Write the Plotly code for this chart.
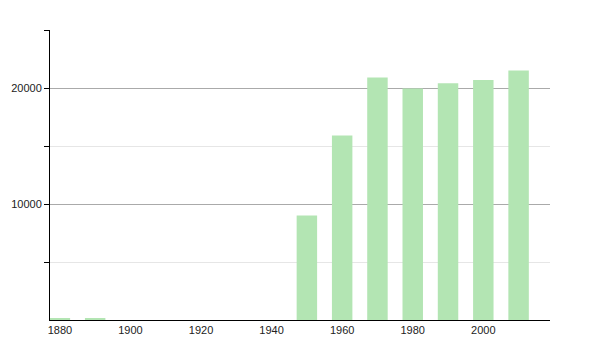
import plotly.graph_objects as go

years = [1880, 1890, 1950, 1960, 1970, 1980, 1990, 2000, 2010]
population = [150, 120, 9000, 15900, 20900, 19950, 20400, 20700, 21500]
x_tick_labels = [1880, 1900, 1920, 1940, 1960, 1980, 2000]
y_tick_labels = [10000, 20000]

fig = go.Figure()
fig.add_trace(go.Bar(
    x=years, y=population, width=5.8,
    marker=dict(color="#b3e5b3", line=dict(width=0)),
))

fig.update_layout(
    width=600, height=350,
    margin=dict(l=50, r=50, t=30, b=30),
    paper_bgcolor="white", plot_bgcolor="white",
    showlegend=False,
    font=dict(family="Liberation Sans, Arial, sans-serif", size=11, color="#222"),
)
fig.update_xaxes(
    range=[1877.2, 2018.9],
    tickvals=x_tick_labels,
    ticktext=[str(v) for v in x_tick_labels],
    showgrid=False, zeroline=False,
    showline=True, linecolor="black", linewidth=1,
    ticks="", ticklen=0,
    tickfont=dict(size=11),
)
fig.update_yaxes(
    range=[0, 25000],
    tickvals=y_tick_labels,
    ticktext=[str(v) for v in y_tick_labels],
    showgrid=True, gridcolor="#aaaaaa", gridwidth=1,
    zeroline=False,
    showline=True, linecolor="black", linewidth=1,
    ticks="outside", ticklen=5, tickcolor="black",
    minor=dict(tickvals=[5000, 15000, 25000], showgrid=True, gridcolor="#e6e6e6",
               ticks="outside", ticklen=5, tickcolor="black"),
    tickfont=dict(size=11),
)

fig.write_html("out.html")
